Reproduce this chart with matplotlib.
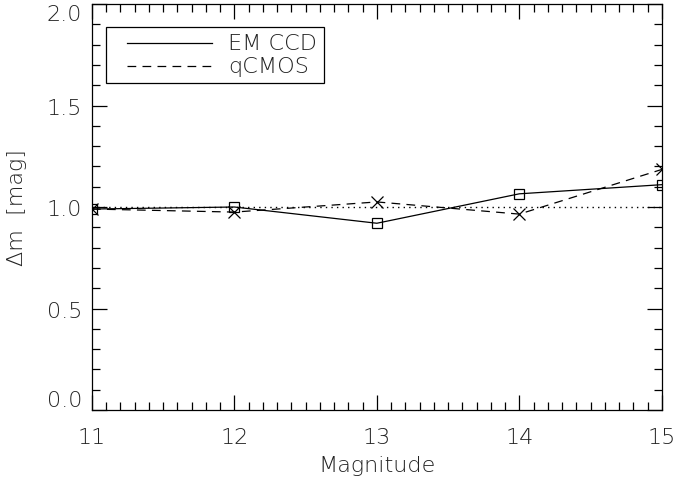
import numpy as np
import matplotlib.pyplot as plt
from matplotlib.ticker import MultipleLocator, FuncFormatter
from matplotlib.patches import Rectangle
from matplotlib.transforms import offset_copy

# magnitudes and measured offsets
mag = [11, 12, 13, 14, 15]
emccd = [0.99, 1.00, 0.92, 1.065, 1.11]
qcmos = [0.99, 0.975, 1.025, 0.965, 1.185]
ref_level = [1.0, 1.0]
labels = ['EM CCD', 'qCMOS']
ymin, ymax = 0.0, 2.0

plt.rcParams['font.family'] = 'DejaVu Sans'
plt.rcParams['font.weight'] = 'light'
txtcol = '#222222'
fig = plt.figure(figsize=(6.76, 4.81), dpi=100)
ax = fig.add_axes([0.136, 0.1455, 0.843, 0.8441])

ax.plot([11, 15], ref_level, ':', color='k', lw=1, dashes=(1, 3))
ax.plot(mag, emccd, '-', color='k', lw=0.9, marker='s', mfc='none', ms=7.5, mew=0.9)
ax.plot(mag, qcmos, '--', color='k', lw=0.9, marker='x', ms=8, mew=0.9, dashes=(7, 5))

ax.set_xlim(11, 15)
ax.set_ylim(ymin, ymax)
ax.xaxis.set_major_locator(MultipleLocator(1))
ax.xaxis.set_minor_locator(MultipleLocator(0.1))
ax.yaxis.set_major_locator(MultipleLocator(0.5))
ax.yaxis.set_minor_locator(MultipleLocator(0.1))
# end labels are drawn separately so they stay inside the axis range (IDL style)
ax.yaxis.set_major_formatter(FuncFormatter(
    lambda v, p: '' if abs(v - ymin) < 1e-6 or abs(v - ymax) < 1e-6 else '%.1f' % v))
ax.tick_params(which='both', direction='in', top=True, right=True, width=0.9,
               labelsize=16, labelcolor=txtcol)
ax.tick_params(axis='x', pad=12)
ax.tick_params(axis='y', pad=7)
ax.tick_params(which='major', length=11)
ax.tick_params(which='minor', length=5.5)
for s in ax.spines.values():
    s.set_linewidth(0.9)

ytr = offset_copy(ax.get_yaxis_transform(), fig=fig, x=-7, y=0, units='points')
ax.text(0, ymin, '%.1f' % ymin, transform=ytr, ha='right', va='bottom',
        fontsize=16, color=txtcol, fontweight='light')
ax.text(0, ymax, '%.1f' % ymax, transform=ytr, ha='right', va='top',
        fontsize=16, color=txtcol, fontweight='light')

ax.set_xlabel('Magnitude', fontsize=16, color=txtcol, labelpad=6, fontweight='light')
ax.set_ylabel('Δm  [mag]', fontsize=16, color=txtcol, labelpad=14, fontweight='light')

# legend box drawn by hand (IDL style)
ax.add_patch(Rectangle((0.0246, 0.8054), 0.3824, 0.1379, transform=ax.transAxes,
                       fill=False, edgecolor='k', lw=0.9))
ax.plot([0.0614, 0.2105], [0.904, 0.904], transform=ax.transAxes, color='k', lw=0.9)
ax.plot([0.0614, 0.2105], [0.847, 0.847], transform=ax.transAxes, color='k', lw=0.9,
        ls='--', dashes=(7, 5))
for yy, lab in zip([0.904, 0.847], labels):
    ax.text(0.2386, yy, lab, transform=ax.transAxes, fontsize=16, color=txtcol,
            va='center', ha='left', fontweight='light')

fig.savefig('out.png', dpi=100)
